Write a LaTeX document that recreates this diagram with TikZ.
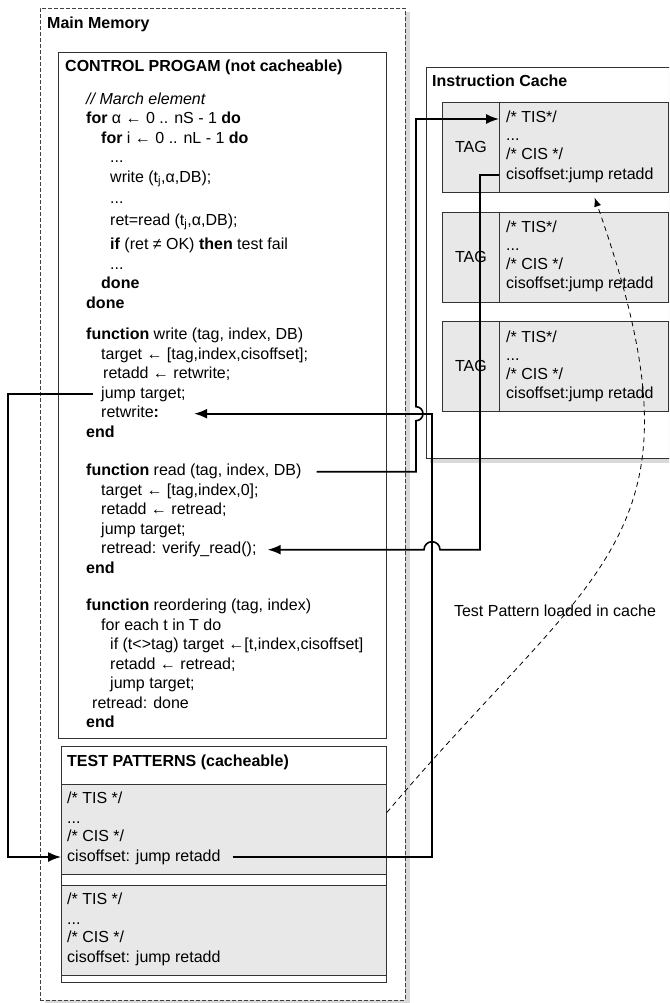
\documentclass[tikz,border=0pt]{standalone}
\usepackage{fontspec}
\setmainfont{Liberation Sans}
\usetikzlibrary{matrix, arrows.meta, shadows, positioning}
\tikzset{
  frame/.style={draw=black!80, line width=0.9pt, fill=white, anchor=north west, inner sep=0pt},
  memframe/.style={draw=black!75, line width=0.8pt, dash pattern=on 4pt off 2pt,
                   drop shadow={shadow xshift=5pt, shadow yshift=-4pt, opacity=.3}},
  block/.style={draw=black!80, line width=0.9pt, fill=black!9, anchor=north west, inner sep=0pt},
  txt/.style={anchor=west, inner sep=0pt, text height=12pt, text depth=4pt},
  ind/.style={xshift=#1},
  conn/.style={line width=1.6pt, -{Latex[length=13pt, width=10pt]}},
  loaded/.style={line width=0.8pt, dash pattern=on 5pt off 4pt, -{Latex[length=9pt, width=7pt]}}
}

\begin{document}
\begin{tikzpicture}[x=1pt, y=-1pt, font=\fontsize{16pt}{19.5pt}\selectfont]
  \useasboundingbox (0,0) rectangle (669,1003);
  \clip (0,0) rectangle (669,1003);

  % main memory
  \node[frame, memframe, minimum width=365pt, minimum height=992pt] (mem) at (40,8) {};
  \node[txt] (memtitle) at (47,25) {\textbf{Main Memory}};
  \node[frame, minimum width=328pt, minimum height=686pt] (ctrl) at (58,52) {};
  \node[txt] (ctrltitle) at (65,68) {\textbf{CONTROL PROGAM (not cacheable)}};

  \matrix (code) [matrix of nodes, anchor=north west, inner sep=0pt, row sep=3.5pt,
                  nodes={txt}] at (86,92) {
    \textit{// March element} \\
    \textbf{for} α ← 0 .. nS - 1 \textbf{do} \\
    |[ind=15pt]| \textbf{for} i ← 0 .. nL - 1 \textbf{do} \\
    |[ind=24pt]| ... \\
    |[ind=24pt]| write (t\textsubscript{j},α,DB); \\[2pt]
    |[ind=24pt]| ... \\[2pt]
    |[ind=24pt]| ret=read (t\textsubscript{j},α,DB); \\[5pt]
    |[ind=24pt]| \textbf{if} (ret ≠ OK) \textbf{then} test fail \\
    |[ind=24pt]| ... \\
    |[ind=15pt]| \textbf{done} \\
    \textbf{done} \\[12pt]
    \textbf{function} write (tag, index, DB) \\
    |[ind=15pt]| target ← [tag,index,cisoffset]; \\
    |[ind=17pt]| retadd ← retwrite; \\
    |[ind=15pt]| jump target; \\
    |[ind=15pt]| retwrite\textbf{:} \\
    \textbf{end} \\[19pt]
    \textbf{function} read (tag, index, DB) \\
    |[ind=15pt]| target ← [tag,index,0]; \\
    |[ind=15pt]| retadd ← retread; \\
    |[ind=15pt]| jump target; \\
    |[ind=15pt]| retread: verify\_read(); \\
    \textbf{end} \\[18pt]
    \textbf{function} reordering (tag, index) \\
    |[ind=15pt]| for each t in T do \\
    |[ind=24pt]| if (t<>tag) target ←[t,index,cisoffset] \\
    |[ind=24pt]| retadd ← retread; \\
    |[ind=24pt]| jump target; \\
    |[ind=6pt]| retread: done \\
    \textbf{end} \\
  };

  % test patterns
  \node[frame, minimum width=325pt, minimum height=236pt] (tests) at (61,746) {};
  \node[txt] (teststitle) at (67,762) {\textbf{TEST PATTERNS (cacheable)}};
  \foreach \tb/\top in {tpA/784, tpB/885} {
    \node[block, minimum width=325pt, minimum height=90pt] (\tb) at (61,\top) {};
    \node[txt] (\tb-1) at (67,\top+15) {/* TIS */};
    \node[txt] (\tb-2) at (67,\top+35) {...};
    \node[txt] (\tb-3) at (67,\top+53) {/* CIS */};
    \node[txt] (\tb-4) at (67,\top+73) {cisoffset: jump retadd};
  }

  % instruction cache
  \node[frame, minimum width=260pt, minimum height=391pt,
        drop shadow={shadow xshift=4pt, shadow yshift=-5pt, opacity=.3}] (cache) at (426,67) {};
  \node[txt] (cachetitle) at (432,83) {\textbf{Instruction Cache}};
  \foreach \i/\top in {1/102, 2/211.5, 3/321} {
    \node[block, minimum width=57pt, minimum height=90pt] (tag\i) at (442,\top) {TAG};
    \node[block, minimum width=169pt, minimum height=90pt] (body\i) at (499,\top) {};
    \node[txt] (tis\i) at (506,\top+17) {/* TIS*/};
    \node[txt] (dots\i) at (506,\top+35) {...};
    \node[txt] (cis\i) at (506,\top+54) {/* CIS */};
    \node[txt] (off\i) at (506,\top+73) {cisoffset:jump retadd};
  }

  \coordinate (wbus) at (8,0);
  \coordinate (readbus) at (416,0);
  \coordinate (retbus) at (432,0);
  \coordinate (cisbus) at (480,0);

  \draw[conn] ([xshift=-8pt]code-15-1.west) -| (wbus |- tpA-4) -- (tpA.west |- tpA-4);
  \draw[conn] ([xshift=12pt]tpA-4.east) -| (retbus |- code-16-1) -- ([xshift=35pt]code-16-1.east);
  \draw[conn] ([xshift=15pt]code-18-1.east) -| ([yshift=-7pt]readbus |- code-16-1)
    arc[start angle=-90, end angle=90, radius=7pt] |- (body1.west |- tis1);
  \draw[conn] (body1.west |- off1) -| (cisbus |- code-22-1) -- ([xshift=8pt]retbus |- code-22-1)
    arc[start angle=0, end angle=180, radius=8pt] -- ([xshift=11pt]code-22-1.east);

  \draw[loaded, shorten >=5pt] ([yshift=17pt]tpA.east) .. controls (600,560) and (715,540) .. ([xshift=9pt]body1.south);
  \node[inner sep=0pt] (loadlabel) at (555,611) {Test Pattern loaded in cache};
\end{tikzpicture}
\end{document}
